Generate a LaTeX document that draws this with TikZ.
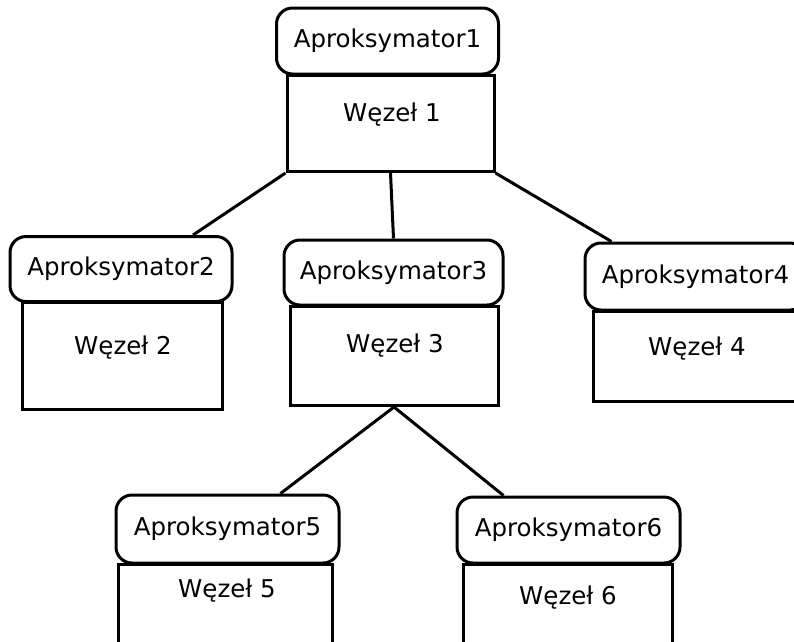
\documentclass[tikz,border=0pt]{standalone}
\usepackage{fontspec}
\setmainfont{DejaVu Sans}
\usetikzlibrary{positioning}

\tikzset{
	header/.style={draw,line width=3pt,rounded corners=16pt,fill=white,minimum width=222pt,minimum height=66pt,inner sep=0pt,font=\fontsize{24.5}{29}\selectfont},
	body/.style={draw,line width=3pt,anchor=north,inner sep=0pt},
	wtext/.style={inner sep=0pt,font=\fontsize{24.5}{29}\selectfont},
	link/.style={line width=3pt}
}

\begin{document}
\begin{tikzpicture}[x=1pt,y=-1pt]

	\useasboundingbox (0,0) rectangle (794,641);
	\clip (0,0) rectangle (794,641);

	% 1st node
	\node[body,minimum width=207pt,minimum height=96pt] (w1) at (390.5,74) {};
	\node[wtext] (t1) at (392,115) {Węzeł 1};
	\node[header] (a1) at (387.5,41) {Aproksymator1};

	% 2nd node
	\node[body,minimum width=200pt,minimum height=107pt] (w2) at (122,301) {};
	\node[wtext] (t2) at (123,348) {Węzeł 2};
	\node[header,minimum height=65pt] (a2) at (121,269) {Aproksymator2};

	% 3rd node
	\node[body,minimum width=208pt,minimum height=99pt] (w3) at (394,305) {};
	\node[wtext] (t3) at (395,346) {Węzeł 3};
	\node[header,minimum width=219pt,minimum height=65pt] (a3) at (393.5,272.5) {Aproksymator3};

	% 4th node
	\node[body,minimum width=207pt,minimum height=90pt] (w4) at (696.5,310) {};
	\node[wtext] (t4) at (697,349) {Węzeł 4};
	\node[header,minimum width=221pt,minimum height=67pt] (a4) at (695.5,276.5) {Aproksymator4};

	% 5th node
	\node[body,minimum width=214pt,minimum height=120pt] (w5) at (225,563) {};
	\node[wtext] (t5) at (227,591) {Węzeł 5};
	\node[header,minimum width=223pt,minimum height=68pt] (a5) at (227.5,529) {Aproksymator5};

	% 6th node
	\node[body,minimum width=209pt,minimum height=120pt] (w6) at (567.5,563) {};
	\node[wtext] (t6) at (568,598) {Węzeł 6};
	\node[header,minimum width=223pt,minimum height=66pt] (a6) at (568.5,530) {Aproksymator6};

	% links
	\draw[link] (w1.south west) -- ([xshift=72pt]a2.north);
	\draw[link] (w1.south) -- (a3.north);
	\draw[link] (w1.south east) -- ([xshift=-84pt]a4.north);
	\draw[link] (w3.south) -- ([xshift=53pt]a5.north);
	\draw[link] (w3.south) -- ([xshift=-65pt]a6.north);

\end{tikzpicture}
\end{document}
